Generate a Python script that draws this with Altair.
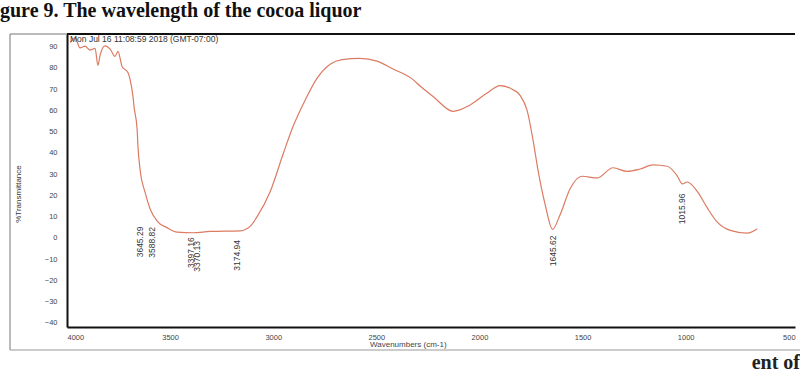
import altair as alt
import pandas as pd

# Spectrum values (wavenumber in cm-1, % transmittance)
wavenumber = [3985, 3976, 3961, 3937, 3913, 3888, 3864, 3850, 3840, 3816, 3791, 3767, 3753, 3733,
              3704, 3694, 3680, 3675, 3660, 3656, 3646, 3622, 3597, 3563, 3515, 3466, 3389, 3306,
              3161, 3112, 3079, 3015, 2952, 2904, 2846, 2788, 2724, 2666, 2579, 2497, 2419, 2322,
              2288, 2225, 2128, 2045, 1963, 1900, 1842, 1803, 1769, 1740, 1716, 1682, 1645.62,
              1609, 1560, 1502, 1430, 1352, 1284, 1221, 1158, 1090, 1042, 1015.96, 993, 944, 896,
              848, 784, 702, 653]
transmittance = [92.0, 92.9, 94.3, 89.5, 90.3, 88.4, 89.2, 81.2, 85.8, 90.4, 88.9, 85.5, 87.8, 80.7,
                 77.8, 74.5, 66.5, 61.8, 51.1, 43.2, 32.4, 21.6, 13.6, 7.9, 4.8, 2.7, 2.4, 3.0,
                 3.3, 5.4, 9.9, 21.7, 39.5, 52.4, 64.7, 75.1, 81.8, 83.9, 84.5, 83.2, 79.5, 74.5,
                 71.5, 66.6, 59.6, 62.6, 68.2, 71.7, 70.0, 67.1, 60.0, 45.9, 31.8, 15.9, 4.0,
                 10.9, 23.2, 29.0, 28.2, 33.0, 31.3, 32.4, 34.4, 33.7, 29.3, 25.4, 26.3, 21.9, 14.2,
                 7.5, 3.5, 2.2, 4.3]

peak_labels = ["3645.29", "3588.82", "3397.16", "3370.13", "3174.94", "1645.62", "1015.96"]
peak_label_top = [5.3, 5.1, 0.3, -1.5, -1.0, 1.1, 20.9]

x_ticks = [4000, 3500, 3000, 2500, 2000, 1500, 1000, 500]
y_ticks = [90, 80, 70, 60, 50, 40, 30, 20, 10, 0, -10, -20, -30, -40]

header = "Mon Jul 16 11:08:59 2018 (GMT-07:00)"
caption_top = "gure 9. The wavelength of the cocoa liquor"
caption_bottom = "ent of"

W, H = 728, 293
FONT = "Liberation Sans"

spec = pd.DataFrame({"wn": wavenumber, "t": transmittance})
peaks = pd.DataFrame({"wn": [float(s) for s in peak_labels], "t": peak_label_top, "label": peak_labels})
one = pd.DataFrame({"a": [0]})

xscale = alt.Scale(domain=[4000, 470], nice=False, zero=False)
yscale = alt.Scale(domain=[-42, 96], nice=False, zero=False)
xaxis = alt.Axis(values=x_ticks, format="d", title=None, grid=False, tickSize=0,
                 labelPadding=6, labelFontSize=7.5, labelFont=FONT, labelColor="#444",
                 labelOverlap=False, domainColor="#111", domainWidth=2)
yaxis = alt.Axis(values=y_ticks, format="d", title=None, grid=False, tickSize=0,
                 labelPadding=10, labelFontSize=7.5, labelFont=FONT, labelColor="#444",
                 labelOverlap=False, labelBound=False, domainColor="#111", domainWidth=2)

line = alt.Chart(spec).mark_line(
    color="#dc7b62", strokeWidth=1.2, interpolate="monotone"
).encode(
    x=alt.X("wn:Q", scale=xscale, axis=xaxis),
    y=alt.Y("t:Q", scale=yscale, axis=yaxis),
    order="wn:Q",
)

labels = alt.Chart(peaks).mark_text(
    angle=270, align="right", baseline="middle", fontSize=8.5, font=FONT, color="#333"
).encode(x=alt.X("wn:Q", scale=xscale, axis=xaxis),
         y=alt.Y("t:Q", scale=yscale, axis=yaxis),
         text="label:N")

top_rule = alt.Chart(one).mark_rule(color="#111", strokeWidth=2).encode(
    x=alt.value(0), x2=alt.value(W), y=alt.value(0))
outer_left = alt.Chart(one).mark_rule(color="#777", strokeWidth=1).encode(
    x=alt.value(-57), y=alt.value(0), y2=alt.value(316))
outer_bottom = alt.Chart(one).mark_rule(color="#999", strokeWidth=1).encode(
    x=alt.value(-57), x2=alt.value(W + 5), y=alt.value(316))
outer_top = alt.Chart(one).mark_rule(color="#777", strokeWidth=1).encode(
    x=alt.value(-57), x2=alt.value(0), y=alt.value(0))

head = alt.Chart(one).mark_text(align="left", baseline="alphabetic", fontSize=8.5, font=FONT,
                                color="#333").encode(x=alt.value(3), y=alt.value(8),
                                                     text=alt.value(header))
ytitle = alt.Chart(one).mark_text(angle=270, align="center", baseline="middle", fontSize=8,
                                  font=FONT, color="#333").encode(
    x=alt.value(-48), y=alt.value(160), text=alt.value("%Transmittance"))
xtitle = alt.Chart(one).mark_text(align="left", baseline="alphabetic", fontSize=8, font=FONT,
                                  color="#444").encode(
    x=alt.value(303), y=alt.value(313), text=alt.value("Wavenumbers (cm-1)"))
cap1 = alt.Chart(one).mark_text(align="left", baseline="alphabetic", fontSize=20,
                                font="Liberation Serif", fontWeight="bold", color="#111").encode(
    x=alt.value(-67), y=alt.value(-17), text=alt.value(caption_top))
cap2 = alt.Chart(one).mark_text(align="right", baseline="alphabetic", fontSize=20,
                                font="Liberation Serif", fontWeight="bold", color="#222").encode(
    x=alt.value(W + 5), y=alt.value(335), text=alt.value(caption_bottom))

chart = alt.layer(
    outer_left, outer_bottom, outer_top, top_rule, line, labels, head, ytitle, xtitle, cap1, cap2
).properties(
    width=W, height=H,
    padding={"left": 67, "top": 34, "right": 5, "bottom": 47},
    autosize=alt.AutoSizeParams(type="none"),
    background="white",
).configure_view(stroke=None)

chart.save("out.html", embed_options={"renderer": "svg", "actions": False})
